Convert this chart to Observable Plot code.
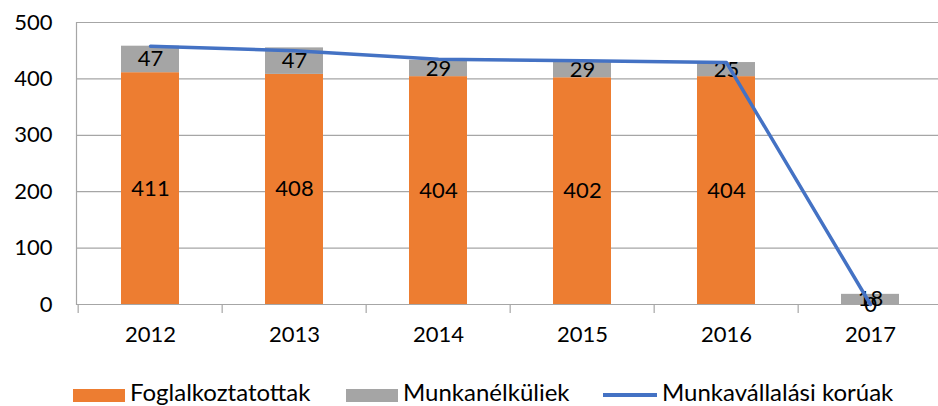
<!DOCTYPE html>
<html>
<head>
<meta charset="utf-8">
<script src="https://cdn.jsdelivr.net/npm/d3@7"></script>
<script src="https://cdn.jsdelivr.net/npm/@observablehq/plot@0.6"></script>
<style>
  html, body { margin: 0; padding: 0; background: #fff; overflow: hidden; }
  body { font-family: Lato, "Open Sans", sans-serif; }
  #wrap { position: relative; width: 938px; height: 406px; }
  #legend { position: absolute; left: 0; top: 0; width: 938px; height: 406px; pointer-events: none; }
  .txt { position: absolute; top: 377px; font-size: 24px; line-height: normal; color: #000; white-space: nowrap; }
  .sw { position: absolute; top: 389px; width: 52px; height: 13px; }
  .ln { position: absolute; top: 393px; width: 54px; height: 4px; }
</style>
</head>
<body>
<div id="wrap">
  <div id="chart"></div>
  <div id="legend"></div>
</div>
<script>
const years = ["2012", "2013", "2014", "2015", "2016", "2017"];
const employed = [411, 408, 404, 402, 404, 0];
const unemployed = [47, 47, 29, 29, 25, 18];
const workingAge = [458, 450, 435, 432, 429, 0];
const yTicks = [0, 100, 200, 300, 400, 500];
const seriesNames = ["Foglalkoztatottak", "Munkanélküliek", "Munkavállalási korúak"];
const colors = ["#ED7D31", "#A5A5A5", "#4472C4"];

const stacked = [];
years.forEach((yr, i) => stacked.push({year: yr, series: seriesNames[0], value: employed[i]}));
years.forEach((yr, i) => stacked.push({year: yr, series: seriesNames[1], value: unemployed[i]}));
const lineData = years.map((yr, i) => ({year: yr, value: workingAge[i]}));

const W = 938, H = 372, ML = 76, MT = 22, MB = 68;
const xRange = [ML, 944];
const step = (xRange[1] - xRange[0]) / years.length;

const chart = Plot.plot({
  width: W,
  height: H,
  marginLeft: ML,
  marginRight: 0,
  marginTop: MT,
  marginBottom: MB,
  style: {fontFamily: "Lato, 'Open Sans', sans-serif", fontSize: "22px", color: "#000", background: "#fff"},
  x: {domain: years, range: xRange, paddingInner: 0.6, paddingOuter: 0.3, label: null},
  y: {domain: [0, 500], label: null},
  color: {domain: seriesNames.slice(0, 2), range: colors.slice(0, 2)},
  marks: [
    Plot.gridY(yTicks, {stroke: "#a6a6a6", strokeOpacity: 1, strokeWidth: 1.2}),
    Plot.frame({anchor: "left", stroke: "#a6a6a6", strokeWidth: 1.2}),
    Plot.axisY(yTicks, {tickSize: 0, tickPadding: 24, fontSize: 22, label: null}),
    Plot.axisX({tickSize: 9, tickFormat: () => "", dx: -step / 2, stroke: "#a6a6a6", strokeWidth: 1.2, label: null}),
    Plot.axisX({tickSize: 0, tickPadding: 22, fontSize: 22, label: null}),
    Plot.barY(stacked, {x: "year", y: "value", fill: "series"}),
    Plot.text(stacked, Plot.stackY({x: "year", y: "value", z: "series", text: d => String(d.value), fill: "#000", fontSize: 22})),
    Plot.line(lineData, {x: "year", y: "value", stroke: colors[2], strokeWidth: 3.5}),
  ]
});
document.getElementById("chart").appendChild(chart);

const legend = document.getElementById("legend");
const swatchLeft = [73, 346, 603];
const textLeft = [130, 403, 662];
seriesNames.forEach((name, i) => {
  const sw = document.createElement("div");
  sw.className = i < 2 ? "sw" : "ln";
  sw.style.background = colors[i];
  sw.style.left = swatchLeft[i] + "px";
  const t = document.createElement("div");
  t.className = "txt";
  t.style.left = textLeft[i] + "px";
  t.textContent = name;
  legend.appendChild(sw);
  legend.appendChild(t);
});
</script>
</body>
</html>
